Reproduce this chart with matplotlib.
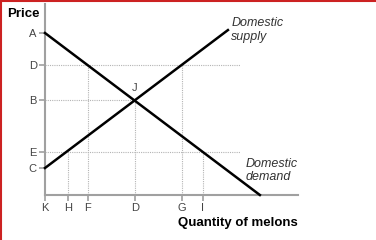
import matplotlib
matplotlib.use("Agg")
import matplotlib.pyplot as plt
from matplotlib.lines import Line2D

plt.rcParams["font.family"] = ["Liberation Sans", "DejaVu Sans"]

# ── data (quantity / price units) ────────────────────────────────────────────
price_labels = ["A", "D", "B", "E", "C"]
price_values = [7.2, 5.78, 4.22, 1.9, 1.2]

qty_labels = ["K", "H", "F", "D", "G", "I"]
qty_values = [0.0, 1.02, 1.91, 4.0, 6.09, 7.0]

supply_q = [0.0, 8.13]
supply_p = [1.2, 7.33]
demand_q = [0.0, 9.55]
demand_p = [7.2, 0.0]

# guide lines: price levels and how far the horizontals run
guide_d_level = 5.78
guide_e_level = 1.9
guide_b_level = 4.22
guide_h_end = 8.67
eq_q = 4.0

# ── figure ──────────────────────────────────────────────────────────────────
fig = plt.figure(figsize=(3.76, 2.40), dpi=100)
fig.patch.set_facecolor("white")
ax = fig.add_axes([45 / 376, 45 / 240, 253 / 376, 191 / 240])
ax.set_xlim(0, 253 / 22.5)
ax.set_ylim(0, 191 / 22.5)

axis_col = "#a0a0a0"
dot_col = "#b4b4b4"
for s in ["top", "right"]:
    ax.spines[s].set_visible(False)
for s in ["left", "bottom"]:
    ax.spines[s].set_color(axis_col)
    ax.spines[s].set_linewidth(1.5)

ax.set_xticks(qty_values)
ax.set_xticklabels(qty_labels)
ax.set_yticks(price_values)
ax.set_yticklabels(price_labels)
ax.tick_params(axis="both", colors=axis_col, length=4, width=1.2, labelsize=8,
               labelcolor="#444444", pad=2)

# dotted guides
dot = dict(color=dot_col, linestyle=(0, (1, 1)), linewidth=0.8, zorder=1)
ax.plot([0, guide_h_end], [guide_d_level] * 2, **dot)
ax.plot([0, guide_h_end], [guide_e_level] * 2, **dot)
ax.plot([0, eq_q], [guide_b_level] * 2, **dot)
ax.plot([qty_values[2]] * 2, [0, guide_d_level], **dot)
ax.plot([qty_values[4]] * 2, [0, guide_d_level], **dot)
ax.plot([qty_values[1]] * 2, [0, guide_e_level], **dot)
ax.plot([qty_values[5]] * 2, [0, guide_e_level], **dot)
ax.plot([eq_q] * 2, [0, guide_b_level], **dot)

# supply & demand
ax.plot(supply_q, supply_p, color="black", linewidth=1.8, zorder=3, clip_on=False)
ax.plot(demand_q, demand_p, color="black", linewidth=1.8, zorder=3, clip_on=False)

ax.text(eq_q, guide_b_level + 0.3, "J", ha="center", va="bottom", fontsize=8, color="#444444")
ax.text(8.28, 7.33, "Domestic\nsupply", ha="left", va="center", fontsize=9,
        style="italic", color="#333333", linespacing=1.15)
ax.text(8.9, 1.08, "Domestic\ndemand", ha="left", va="center", fontsize=9,
        style="italic", color="#333333", linespacing=1.15)

fig.text(7 / 376, 1 - 14 / 240, "Price", fontsize=9.5, fontweight="bold", va="center", ha="left")
fig.text(298 / 376, 1 - 223 / 240, "Quantity of melons", fontsize=9.5, fontweight="bold",
         va="center", ha="right")

# red frame top + left
fig.add_artist(Line2D([0, 1], [1 - 1 / 240] * 2, transform=fig.transFigure, color="#cc2222", linewidth=1.5))
fig.add_artist(Line2D([1 / 376] * 2, [0, 1], transform=fig.transFigure, color="#cc2222", linewidth=1.5))

fig.savefig("out.png", dpi=100)
